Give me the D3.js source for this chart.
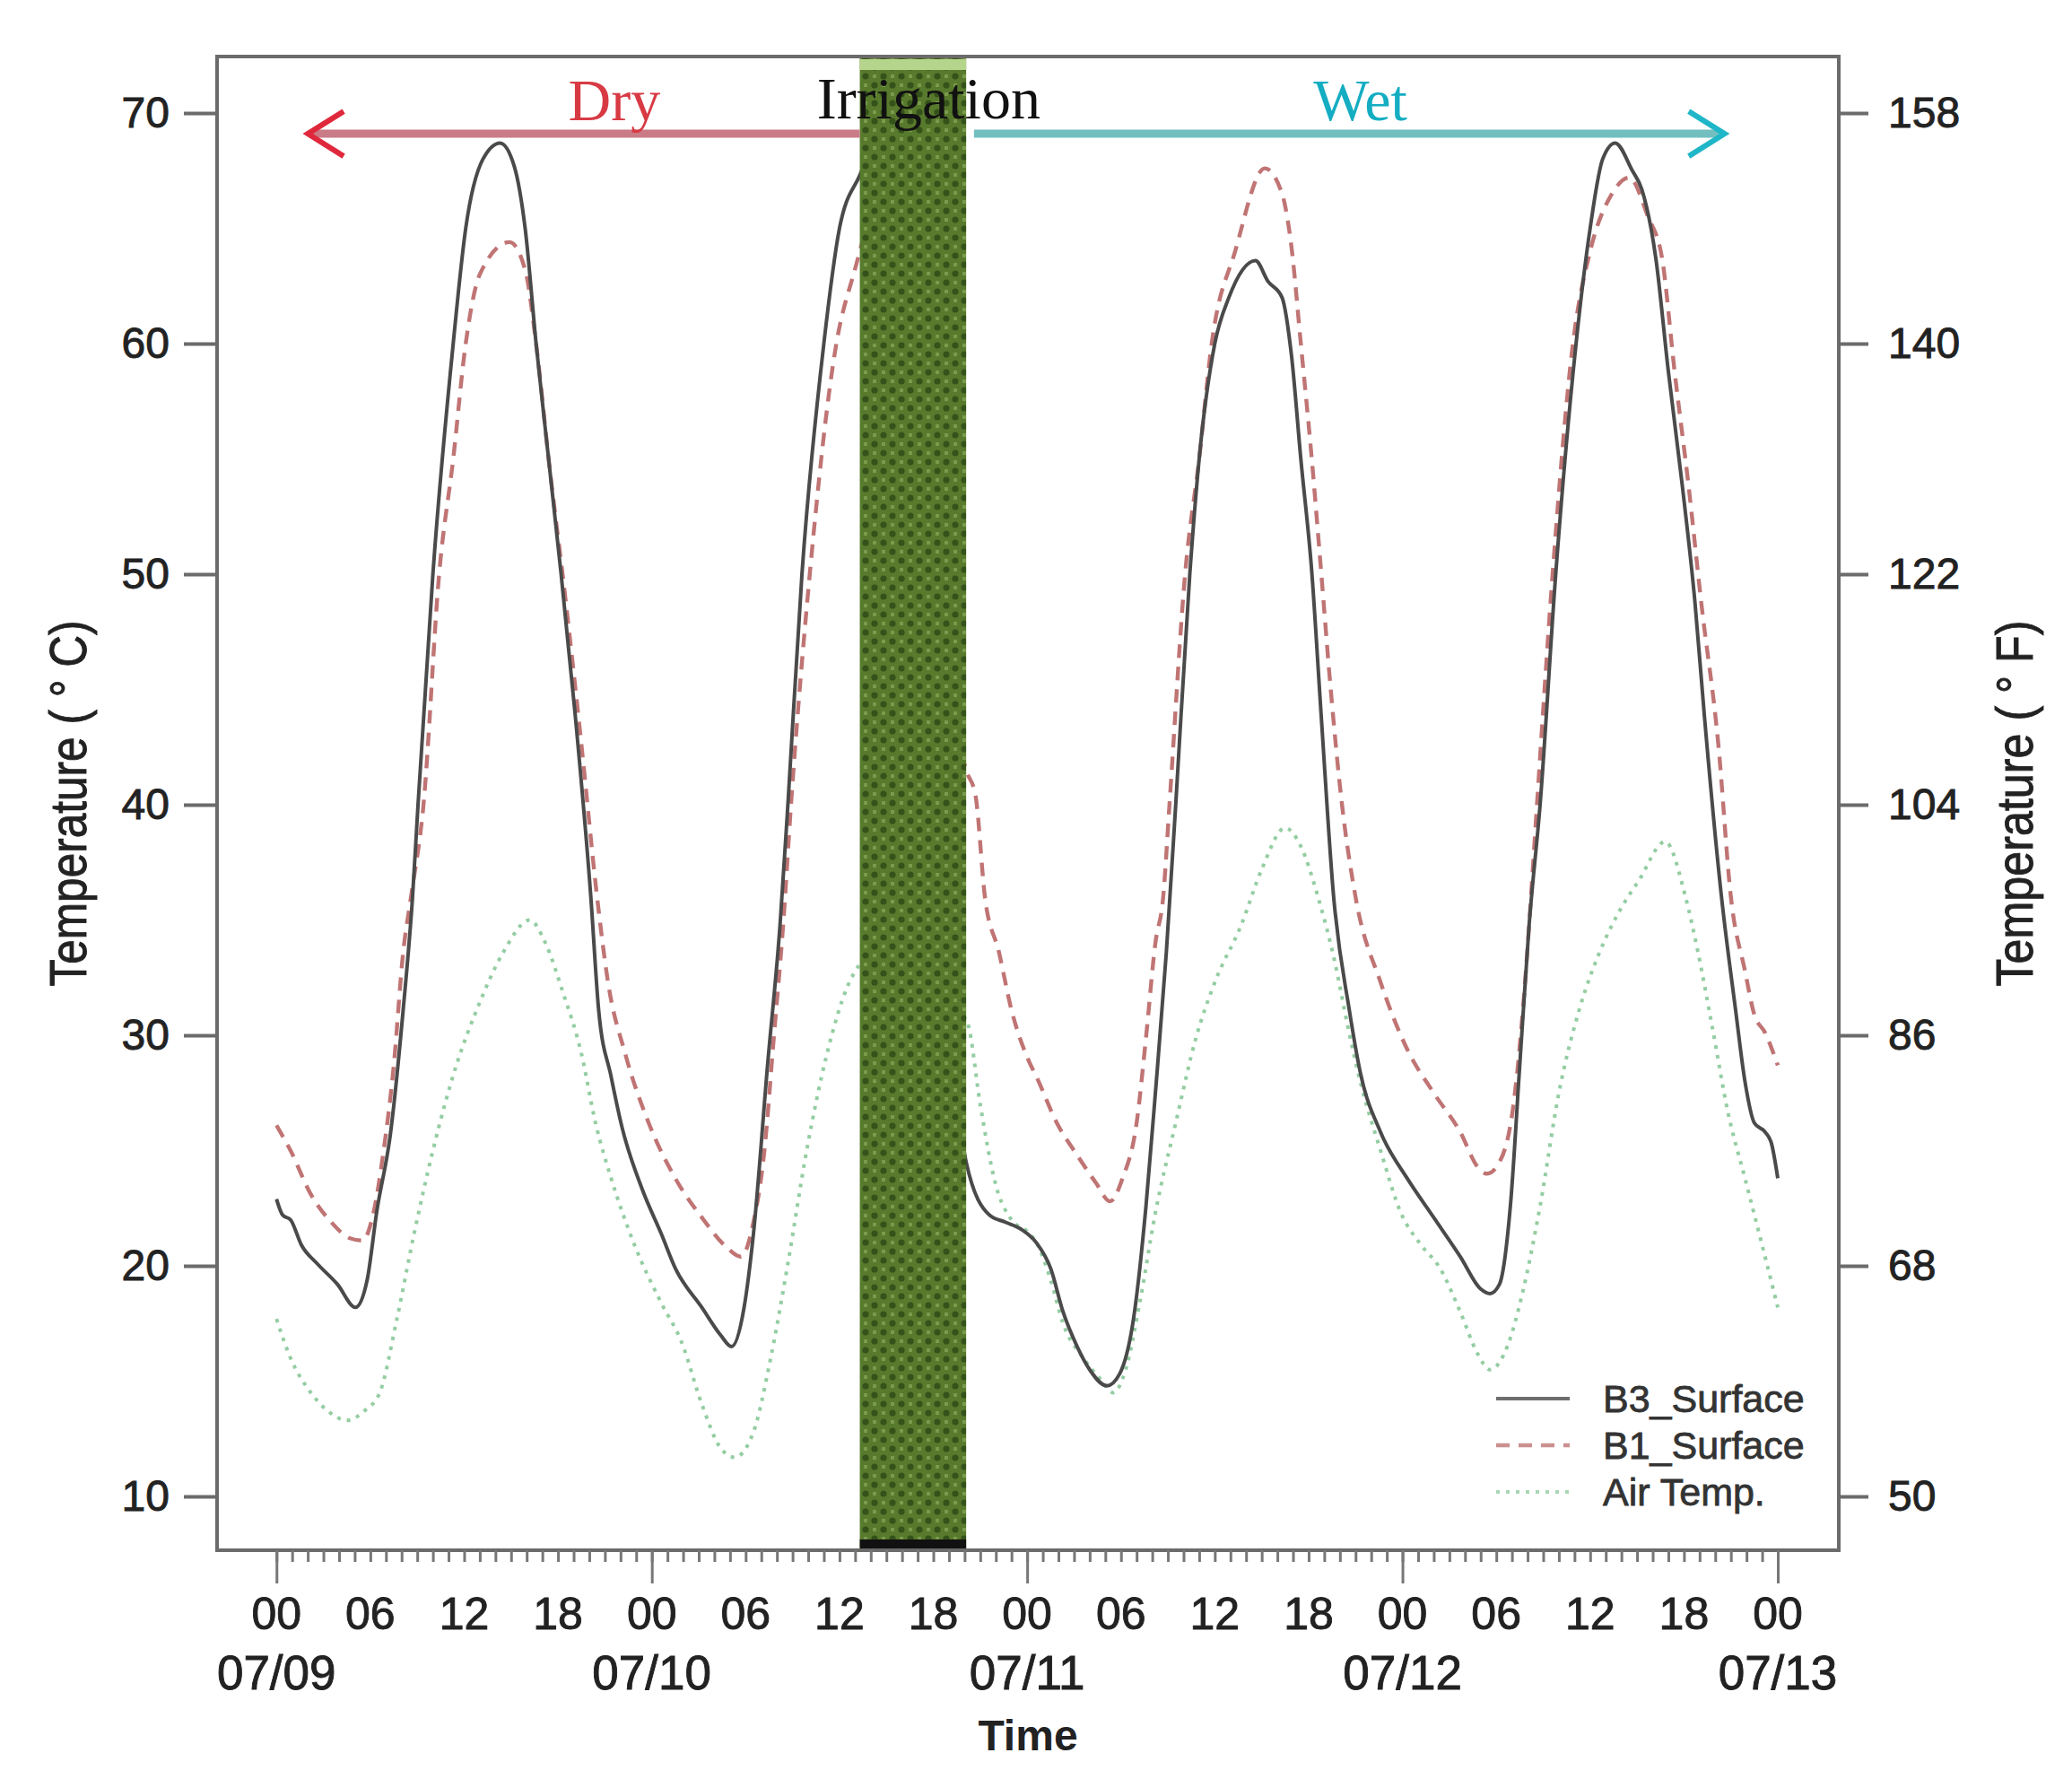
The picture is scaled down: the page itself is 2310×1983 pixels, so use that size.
<!DOCTYPE html>
<html>
<head>
<meta charset="utf-8">
<script src="https://cdn.jsdelivr.net/npm/d3@7.9.0/dist/d3.min.js"></script>
<style>
  body { margin: 0; background: #fff; }
  svg { display: block; }
</style>
</head>
<body>
<svg id="chart" width="2310" height="1983"></svg>
<script>
// hours since 07/09 00:00
const b3Hours = [0, 0.4, 0.9, 1.6, 2.6, 3.9, 5.05, 5.8, 6.4, 7.3, 8.1, 8.7, 9.05, 10.0, 11.3, 12.1, 13.2, 14.3, 15.2, 15.9, 16.6, 17.4, 18.2, 19.1, 20.1, 20.6, 21.4, 22.1, 23.4, 24.6, 25.5, 27.2, 28.4, 29.1, 29.9, 30.5, 31.4, 32.2, 32.7, 33.6, 35.0, 36.0, 37.3, 38.5, 40, 41.5, 43, 44.1, 45.6, 46.6, 47.6, 48.6, 49.5, 50.3, 51.2, 52, 53.1, 53.9, 54.8, 55.6, 56.2, 56.9, 57.5, 58.4, 59.0, 60.0, 60.9, 62.6, 63.4, 64.3, 64.9, 65.5, 66.2, 66.8, 67.6, 68.6, 69.3, 70.6, 72.3, 74, 75.7, 77, 77.6, 78.2, 78.9, 79.5, 80.1, 80.8, 81.8, 83.1, 84, 84.8, 85.6, 86.7, 87.3, 88.2, 89, 89.9, 90.7, 91.3, 92.4, 93.3, 93.9, 94.5, 95.2, 95.6, 96];
const b3Temp = [22.9, 22.2, 22.0, 20.9, 20.1, 19.2, 18.2, 19.4, 22.3, 25.8, 31.1, 36, 40, 50, 60, 65, 68, 68.7, 67.7, 65, 60, 55, 50, 43.9, 36, 31.1, 28.2, 26, 23.3, 21.4, 19.9, 18.2, 17.0, 16.5, 18.2, 21.4, 28.7, 34.8, 40, 50, 60, 65, 67.3, 69, 66, 52, 32, 24.5, 22.2, 21.9, 21.6, 21.0, 19.9, 18, 16.5, 15.5, 14.8, 15.3, 17.7, 22.6, 27.5, 33.6, 40, 50, 55, 60, 62, 63.6, 62.7, 62, 59.5, 55, 50.1, 43.9, 36, 31.1, 28.4, 25.8, 23.8, 22.1, 20.4, 19, 18.8, 19.2, 22.6, 28.7, 34.8, 40, 50, 60, 65, 68, 68.7, 67.5, 66.7, 63.7, 58.8, 53.8, 48.8, 43.9, 36, 31.1, 28, 26.2, 25.8, 25.3, 23.8];

const b1Hours = [0, 0.9, 2.2, 3.5, 4.7, 5.5, 6.2, 6.85, 7.5, 8.1, 8.6, 9.4, 10.4, 11.3, 12.1, 13.0, 14.9, 15.9, 16.6, 17.4, 18.5, 19.5, 20.5, 21.2, 22.3, 23.8, 25.5, 27.2, 28.8, 29.7, 30.5, 31.2, 31.8, 32.4, 32.9, 34.1, 35.8, 36.9, 38.5, 40, 42, 44.1, 44.7, 45.3, 46.2, 47, 48.1, 48.6, 49.9, 51.2, 52.4, 53.3, 54.1, 55, 55.6, 56.2, 56.7, 57.1, 58.1, 59.0, 59.8, 61.3, 63.2, 64.3, 64.9, 65.5, 66.2, 66.8, 67.4, 68.1, 69.0, 70.6, 72.3, 74, 75.7, 76.8, 77.4, 78.2, 79.1, 79.7, 80.1, 80.6, 81.6, 82.9, 84, 85.4, 86.5, 87.7, 88.6, 89.4, 90.3, 91.1, 92.2, 93, 93.9, 94.5, 95.2, 96];
const b1Temp = [26.1, 25, 23.1, 21.9, 21.2, 21.1, 22.3, 25, 28.7, 33.6, 36, 40, 50, 55, 60, 63, 64.4, 63.2, 60, 55, 48.8, 42.6, 36, 32.3, 29.2, 26.2, 23.8, 22.1, 20.8, 20.4, 21.9, 25, 29.9, 34.8, 40, 50, 60, 63, 66, 63, 50, 41.5, 40.4, 36, 33.6, 31.1, 28.9, 28.2, 26.2, 24.8, 23.6, 22.8, 23.8, 26.2, 29.9, 34, 36, 40, 50, 55, 60, 64, 67.6, 66.5, 64.2, 60, 55, 50.1, 45.1, 40.2, 36, 32.3, 29.4, 27.5, 25.8, 24.3, 24, 24.5, 27, 31.1, 34.8, 40, 50, 60, 64, 66.5, 67.2, 65.5, 63.7, 58.8, 53.8, 48.8, 42.6, 36, 32.8, 30.9, 30.1, 28.7];

const airHours = [0, 0.9, 2.2, 3.5, 4.5, 5.6, 6.6, 7.7, 8.8, 10, 11.5, 12.8, 14.5, 16.2, 17.2, 18.3, 19.5, 20.4, 21.4, 22.9, 24.6, 25.9, 27.2, 28.4, 29.3, 30.5, 31.6, 32.7, 33.9, 35.2, 36.5, 37.3, 39, 41, 43, 44.2, 45, 46, 47, 48, 48.6, 49.5, 50.3, 51.6, 52.8, 53.5, 54.3, 55.2, 56.2, 57.5, 58.8, 60, 61.7, 63, 64.5, 65.5, 66.6, 67.7, 68.5, 69.3, 70.6, 71.9, 73.2, 74.4, 75.7, 76.8, 77.6, 78.7, 79.7, 80.8, 82, 83.3, 84.6, 85.8, 87.1, 88.8, 90.1, 90.9, 91.8, 92.8, 93.9, 95, 96];
const airTemp = [17.7, 16, 14.5, 13.6, 13.3, 13.7, 14.5, 17.7, 21.4, 25, 28.7, 31.1, 33.6, 35, 34, 31.9, 29.2, 26.2, 23.8, 20.9, 18.4, 16.7, 14, 12.1, 11.7, 12.8, 16, 20.1, 25, 29.2, 32.1, 33.1, 34, 33, 31.5, 30.5, 27, 23.5, 22, 21.5, 21, 19.4, 17.5, 16, 15, 14.5, 15.5, 18.4, 22.3, 26.2, 29.9, 32.3, 34.8, 37.2, 39, 38.2, 36, 33.1, 30.4, 28, 25, 22.3, 20.9, 19.9, 18, 16.2, 15.5, 16.5, 18.9, 22.6, 27.5, 31.1, 33.6, 35.3, 36.7, 38.4, 36, 33.6, 30.4, 26.7, 23.8, 20.9, 18.2];

const seriesNames = ["B3_Surface", "B1_Surface", "Air Temp."];
const celsiusTicks = [10, 20, 30, 40, 50, 60, 70];
const fahrenheitTicks = [50, 68, 86, 104, 122, 140, 158];
const hourLabels = ["00", "06", "12", "18"];
const dayLabels = ["07/09", "07/10", "07/11", "07/12", "07/13"];
const irrigation = [37.3, 44.1];      // start / end hour of the irrigation
const dryArrow = [37.3, 2.0];         // from, to (hours)
const wetArrow = [44.6, 92.6];
const arrowLevel = 69.1;              // deg C

const svg = d3.select("#chart");
const plotL = 242, plotR = 2050, plotT = 63, plotB = 1728;

const x = d3.scaleLinear().domain([-3.8, 99.9]).range([plotL, plotR]);
const y = d3.scaleLinear().domain([7.67, 72.45]).range([plotB, plotT]);
const yF = d3.scaleLinear().domain([7.67 * 1.8 + 32, 72.45 * 1.8 + 32]).range([plotB, plotT]);

// band pattern
const defs = svg.append("defs");
const pat = defs.append("pattern").attr("id", "grass")
  .attr("patternUnits", "userSpaceOnUse").attr("width", 20).attr("height", 20);
pat.append("rect").attr("width", 20).attr("height", 20).attr("fill", "#577a2c");
pat.append("circle").attr("cx", 5).attr("cy", 5).attr("r", 3.6).attr("fill", "#35521a");
pat.append("circle").attr("cx", 15).attr("cy", 15).attr("r", 3.6).attr("fill", "#35521a");
pat.append("rect").attr("x", 13).attr("y", 3).attr("width", 4).attr("height", 4).attr("fill", "#7a9a4c");
pat.append("rect").attr("x", 3).attr("y", 13).attr("width", 4).attr("height", 4).attr("fill", "#7a9a4c");

defs.append("clipPath").attr("id", "plot-clip")
  .append("rect").attr("x", plotL).attr("y", plotT).attr("width", plotR - plotL).attr("height", plotB - plotT);

// series lines
const series = [
  { name: seriesNames[0], hours: b3Hours, temp: b3Temp, color: "#4a4a4a", width: 4, dash: null },
  { name: seriesNames[1], hours: b1Hours, temp: b1Temp, color: "#c07474", width: 4.4, dash: "15,10" },
  { name: seriesNames[2], hours: airHours, temp: airTemp, color: "#94cda2", width: 4, dash: "4,7" }
];

const line = d3.line()
  .x(d => x(d[0]))
  .y(d => y(d[1]))
  .curve(d3.curveMonotoneX);

const plot = svg.append("g").attr("clip-path", "url(#plot-clip)");
series.slice().reverse().forEach(s => {
  plot.append("path")
    .datum(s.hours.map((h, i) => [h, s.temp[i]]))
    .attr("d", line)
    .attr("fill", "none")
    .attr("stroke", s.color)
    .attr("stroke-width", s.width)
    .attr("stroke-dasharray", s.dash)
    .attr("stroke-linejoin", "round");
});

// irrigation band (drawn over the lines)
const bx0 = x(irrigation[0]), bx1 = x(irrigation[1]);
svg.append("rect").attr("x", bx0).attr("y", plotT).attr("width", bx1 - bx0).attr("height", plotB - plotT)
  .attr("fill", "url(#grass)");
svg.append("rect").attr("x", bx0).attr("y", plotT + 3).attr("width", bx1 - bx0).attr("height", 12)
  .attr("fill", "#b6d58c");
svg.append("rect").attr("x", bx0).attr("y", plotB - 12).attr("width", bx1 - bx0).attr("height", 12)
  .attr("fill", "#111");

// arrows
function arrow(span, lineColor, headColor) {
  const x0 = x(span[0]), x1 = x(span[1]), ya = y(arrowLevel);
  const dir = x1 < x0 ? 1 : -1;
  svg.append("line").attr("x1", x0).attr("x2", x1 + dir * 4).attr("y1", ya).attr("y2", ya)
    .attr("stroke", lineColor).attr("stroke-width", 9);
  svg.append("path")
    .attr("d", `M${x1 + dir * 40},${ya - 25} L${x1},${ya} L${x1 + dir * 40},${ya + 25}`)
    .attr("fill", "none").attr("stroke", headColor).attr("stroke-width", 6)
    .attr("stroke-linejoin", "miter");
}
arrow(dryArrow, "#c97b86", "#e0283c");
arrow(wetArrow, "#73bfc0", "#1fb6c8");

const serif = "'Liberation Serif', 'Times New Roman', serif";
svg.append("text").attr("x", x(21.6)).attr("y", 134).attr("text-anchor", "middle")
  .attr("font-family", serif).attr("font-size", 66).attr("fill", "#d83a44").text("Dry");
svg.append("text").attr("x", x(69.3)).attr("y", 134).attr("text-anchor", "middle")
  .attr("font-family", serif).attr("font-size", 66).attr("fill", "#14adc2").text("Wet");
svg.append("text").attr("x", x(41.7)).attr("y", 132).attr("text-anchor", "middle")
  .attr("font-family", serif).attr("font-size", 66).attr("fill", "#111").text("Irrigation");

// box
svg.append("rect").attr("x", plotL).attr("y", plotT).attr("width", plotR - plotL).attr("height", plotB - plotT)
  .attr("fill", "none").attr("stroke", "#6b6b6b").attr("stroke-width", 4);

const sans = "'Liberation Sans', Arial, sans-serif";
const heavy = sel => sel.attr("stroke", "#222").attr("stroke-width", 0.9);

// y axes
const gl = svg.append("g").attr("transform", `translate(${plotL},0)`)
  .call(d3.axisLeft(y).tickValues(celsiusTicks).tickSize(37).tickPadding(16));
const gr = svg.append("g").attr("transform", `translate(${plotR},0)`)
  .call(d3.axisRight(yF).tickValues(fahrenheitTicks).tickSize(33).tickPadding(22));
[gl, gr].forEach(g => {
  g.select(".domain").remove();
  g.selectAll(".tick line").attr("stroke", "#6b6b6b").attr("stroke-width", 4);
  g.selectAll(".tick text").attr("font-family", sans).attr("font-size", 48).attr("fill", "#222")
    .call(heavy);
});

// x axis: hourly minor ticks, daily major ticks
const gx = svg.append("g").attr("transform", `translate(0,${plotB})`)
  .call(d3.axisBottom(x).tickValues(d3.range(0, 97, 1)).tickSize(13).tickFormat(""));
gx.select(".domain").remove();
gx.selectAll(".tick line").attr("stroke", "#777").attr("stroke-width", 3);
const gxd = svg.append("g").attr("transform", `translate(0,${plotB})`)
  .call(d3.axisBottom(x).tickValues(dayLabels.map((d, i) => i * 24)).tickSize(37).tickFormat(""));
gxd.select(".domain").remove();
gxd.selectAll(".tick line").attr("stroke", "#777").attr("stroke-width", 3);

d3.range(0, 97, 6).forEach((h, i) => {
  svg.append("text").attr("x", x(h)).attr("y", 1816).attr("text-anchor", "middle")
    .attr("font-family", sans).attr("font-size", 50).attr("fill", "#222")
    .text(hourLabels[i % 4]).call(heavy);
});
dayLabels.forEach((d, i) => {
  svg.append("text").attr("x", x(i * 24)).attr("y", 1883).attr("text-anchor", "middle")
    .attr("font-family", sans).attr("font-size", 53).attr("fill", "#222").text(d).call(heavy);
});
svg.append("text").attr("x", (plotL + plotR) / 2).attr("y", 1951).attr("text-anchor", "middle")
  .attr("font-family", sans).attr("font-size", 48).attr("font-weight", "bold").attr("fill", "#222")
  .text("Time");

// axis titles
const midY = (plotT + plotB) / 2;
[["Temperature ( \u00b0 C)", 75], ["Temperature ( \u00b0 F)", 2245]].forEach(([t, tx]) => {
  svg.append("text")
    .attr("transform", `translate(${tx},${midY}) rotate(-90)`)
    .attr("text-anchor", "middle").attr("dominant-baseline", "central")
    .attr("font-family", sans).attr("font-size", 58).attr("fill", "#222")
    .attr("textLength", 408).attr("lengthAdjust", "spacingAndGlyphs")
    .text(t).call(heavy);
});

// legend
const legendRows = [1559, 1611, 1663];
series.forEach((s, i) => {
  svg.append("line").attr("x1", 1668).attr("x2", 1750).attr("y1", legendRows[i]).attr("y2", legendRows[i])
    .attr("stroke", s.color).attr("stroke-width", s.width).attr("stroke-dasharray", s.dash)
    .attr("opacity", 0.8);
  svg.append("text").attr("x", 1787).attr("y", legendRows[i]).attr("dominant-baseline", "central")
    .attr("font-family", sans).attr("font-size", 43).attr("fill", "#333").text(s.name)
    .attr("stroke", "#333").attr("stroke-width", 0.8);
});
</script>
</body>
</html>
